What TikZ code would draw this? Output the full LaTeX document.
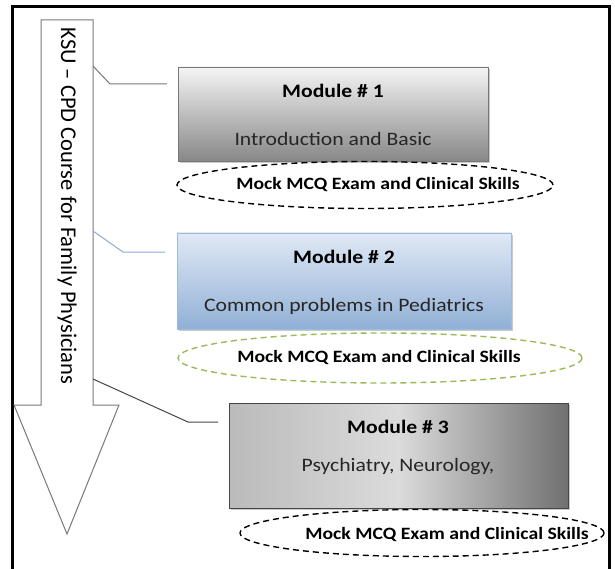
\documentclass[tikz,border=0pt]{standalone}
\usepackage{fontspec}
\setmainfont{Carlito}
\newfontfamily\calw[FakeStretch=1.14]{Carlito}
\usetikzlibrary{shapes.geometric,shadows}
\definecolor{linegray}{RGB}{120,120,120}
\definecolor{darkline}{RGB}{70,70,70}
\definecolor{blueline}{RGB}{140,170,215}
\definecolor{greendash}{RGB}{155,187,89}
\definecolor{txt}{RGB}{38,38,38}
\definecolor{blueTop}{RGB}{224,233,245}
\definecolor{blueBot}{RGB}{145,176,214}
\definecolor{blueBorder}{RGB}{160,186,220}
\begin{document}
\begin{tikzpicture}[x=1pt,y=-1pt,
  modbox/.style={draw=linegray, line width=0.9pt, inner sep=0pt,
    drop shadow={shadow xshift=1.5pt, shadow yshift=-2pt, opacity=0.35, fill=black!60}},
  mocke/.style={ellipse, dashed, dash pattern=on 6pt off 4pt, line width=1.4pt, inner sep=0pt},
  mocktext/.style={font={\calw\fontsize{17.3}{20}\selectfont\bfseries}, text=black, inner sep=0pt},
  modtitle/.style={font={\calw\fontsize{19}{22}\selectfont\bfseries}, text=black, inner sep=0pt},
  modtext/.style={font={\calw\fontsize{19}{22}\selectfont}, text=txt, inner sep=0pt},
  conn/.style={line width=1pt}
]
\useasboundingbox (0,0) rectangle (615,569);
\fill[white] (0,0) rectangle (615,569);
\draw[line width=3pt] (12,575) -- (12,7) -- (609,7) -- (609,575);

% course arrow
\draw[draw=linegray, line width=1pt, fill=white, line join=miter]
  (41,20) -- (93,20) -- (93,405) -- (119,405) -- (67,534) -- (14,405) -- (41,405) -- cycle;
\node[rotate=-90, font={\fontsize{22.5}{25}\selectfont}, text=black, inner sep=0pt] (course) at (67,206)
  {KSU – CPD Course for Family Physicians};

% connector anchor points on the arrow shaft
\coordinate (s1) at (93,66);
\coordinate (k1) at (110,84);
\coordinate (t1) at (167,84);
\coordinate (s2) at (93,231);
\coordinate (k2) at (123,252);
\coordinate (t2) at (165,252);
\coordinate (s3) at (93,379);
\coordinate (k3) at (188,422);
\coordinate (t3) at (218,422);

% module boxes
\node[modbox, top color=black!4, bottom color=black!47, minimum width=310pt, minimum height=94pt] (m1) at (333,114) {};
\node[modbox, draw=blueBorder, top color=blueTop, bottom color=blueBot, minimum width=334pt, minimum height=96pt] (m2) at (344,281) {};
\node[modbox, draw=darkline, left color=black!27, right color=black!56, middle color=black!14, minimum width=339pt, minimum height=105pt] (m3) at (398.5,455.5) {};

\node[modtitle] (m1a) at (333,91) {Module \# 1};
\node[modtext]  (m1b) at (333,139) {Introduction and Basic};
\node[modtitle] (m2a) at (344,257) {Module \# 2};
\node[modtext]  (m2b) at (344,306) {Common problems in Pediatrics};
\node[modtitle] (m3a) at (398,427) {Module \# 3};
\node[modtext]  (m3b) at (398,467) {Psychiatry, Neurology,};

% mock exam ellipses
\node[mocke, draw=black, minimum width=376pt, minimum height=47pt] (e1) at (365,185) {};
\node[mocke, draw=greendash, minimum width=404pt, minimum height=50pt] (e2) at (380,358) {};
\node[mocke, draw=black, minimum width=364pt, minimum height=47pt] (e3) at (422,533) {};
\node[mocktext] (e1t) at (378,185) {Mock MCQ Exam and Clinical Skills};
\node[mocktext] (e2t) at (379,358) {Mock MCQ Exam and Clinical Skills};
\node[mocktext] (e3t) at (447,535) {Mock MCQ Exam and Clinical Skills};

% connectors
\draw[conn, draw=linegray] (s1) -- (k1) -- (t1);
\draw[conn, draw=blueline] (s2) -- (k2) -- (t2);
\draw[conn, draw=darkline] (s3) -- (k3) -- (t3);
\end{tikzpicture}
\end{document}
